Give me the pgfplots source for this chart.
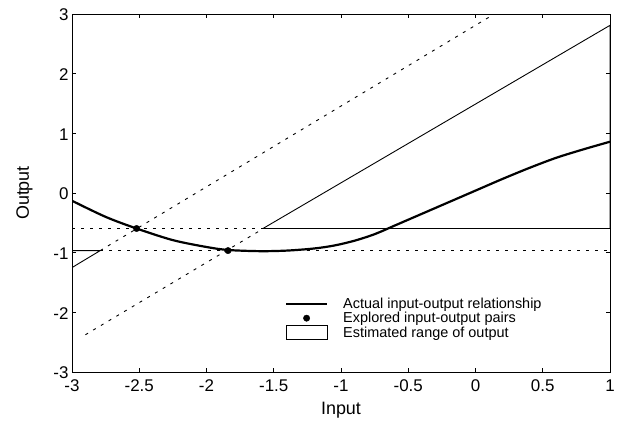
\documentclass[border=0pt]{standalone}
\usepackage{pgfplots}
\pgfplotsset{compat=1.18}
\usepackage{fontspec}
\setmainfont{Liberation Sans}
\pgfplotsset{
  lineleg/.style={legend image code/.code={\draw[##1] (0bp,0bp) -- (41bp,0bp);}},
  dotleg/.style={legend image code/.code={\draw[##1] plot coordinates {(20.5bp,0bp)};}},
  rectleg/.style={legend image code/.code={\draw[black, line width=0.8bp, fill=white] (0bp,-7bp) rectangle (41bp,7bp);}},
}
\begin{document}
\begin{tikzpicture}
\path[use as bounding box] (-72bp,-53bp) rectangle (557bp,372bp);
\begin{axis}[
  at={(0,0)}, anchor=south west,
  scale only axis, width=538bp, height=358bp,
  xmin=-3, xmax=1, ymin=-3, ymax=3,
  xtick={-3,-2.5,-2,-1.5,-1,-0.5,0,0.5,1},
  ytick={-3,-2,-1,0,1,2,3},
  tick align=inside, major tick length=4bp,
  tick style={black, line width=0.8bp},
  axis line style={line width=1bp},
  /pgf/number format/assume math mode=true,
  ticklabel style={font=\fontsize{17}{17}\selectfont},
  yticklabel style={yshift=-1bp},
  xticklabel style={yshift=-4bp},
  xlabel={Input}, ylabel={Output},
  label style={font=\fontsize{18}{18}\selectfont},
  xlabel style={yshift=-4bp},
  ylabel style={yshift=14bp},
  legend cell align=left,
  legend style={draw=none, fill=none, at={(0.39,0.215)}, anchor=north west,
    font=\fontsize{14.5}{14.5}\selectfont, row sep=0bp, column sep=14bp,
    nodes={inner sep=1bp}},
]
% actual relationship
\addplot[black, line width=2.2bp, smooth, lineleg]
  coordinates {(-3,-0.13) (-2.75,-0.40) (-2.52,-0.595) (-2.25,-0.79) (-2.0,-0.905)
  (-1.84,-0.955) (-1.6,-0.975) (-1.4,-0.965) (-1.2,-0.93) (-1.05,-0.88)
  (-0.9,-0.80) (-0.75,-0.69) (-0.6,-0.545) (-0.4,-0.35) (-0.2,-0.155)
  (0,0.04) (0.2,0.235) (0.4,0.42) (0.6,0.59) (0.8,0.73) (1,0.86)};
\addlegendentry{Actual input-output relationship}
% explored pairs
\addplot[only marks, mark=*, mark size=3.2bp, black, dotleg]
  coordinates {(-2.52,-0.595) (-1.84,-0.965)};
\addlegendentry{Explored input-output pairs}
% estimated range (right region)
\addplot[black, line width=0.9bp, rectleg]
  coordinates {(-1.58,-0.595) (1,-0.595) (1,2.81) (-1.58,-0.595)};
\addlegendentry{Estimated range of output}
% estimated range (left region)
\addplot[black, line width=0.9bp, forget plot]
  coordinates {(-3,-0.965) (-2.79,-0.965) (-3,-1.25) (-3,-0.965)};
% dotted construction lines
\addplot[black, line width=0.9bp, dash pattern=on 3bp off 6bp, forget plot]
  coordinates {(-3,-0.595) (-1.58,-0.595)};
\addplot[black, line width=0.9bp, dash pattern=on 3bp off 6bp, forget plot]
  coordinates {(-2.79,-0.965) (1,-0.965)};
\addplot[black, line width=0.9bp, dash pattern=on 3bp off 6bp, forget plot]
  coordinates {(-2.79,-0.965) (0.14,3)};
\addplot[black, line width=0.9bp, dash pattern=on 3bp off 6bp, forget plot]
  coordinates {(-2.9,-2.375) (-1.58,-0.6)};
\end{axis}
\end{tikzpicture}
\end{document}
